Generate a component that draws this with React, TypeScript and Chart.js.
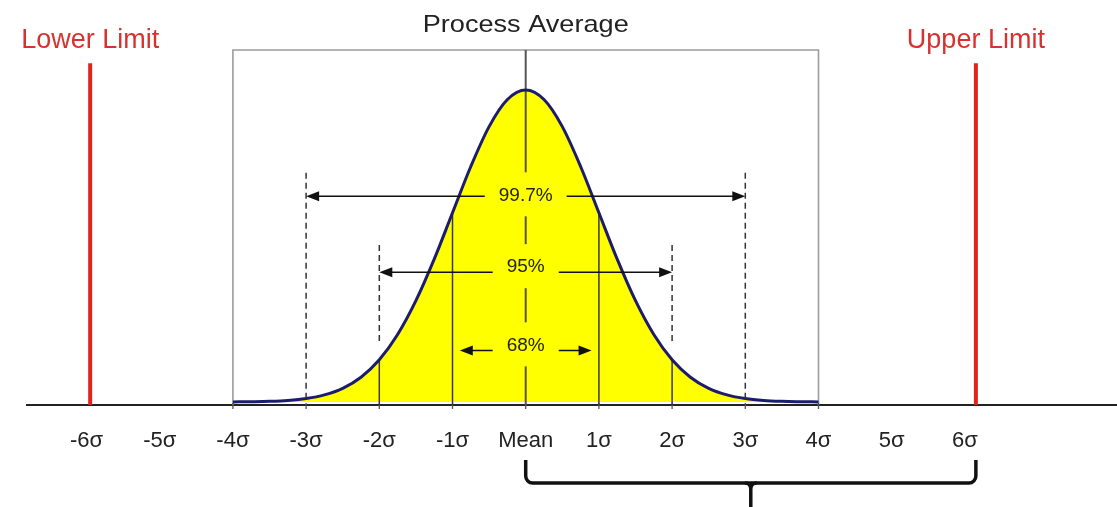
import React, { useEffect, useRef } from "react";
import { Chart, registerables } from "chart.js";

Chart.register(...registerables);

// ---- data ----
const SIGMA_X = [
  -4, -3.75, -3.5, -3.25, -3, -2.75, -2.5, -2.25, -2, -1.75, -1.5, -1.25, -1, -0.75, -0.5, -0.25,
  0, 0.25, 0.5, 0.75, 1, 1.25, 1.5, 1.75, 2, 2.25, 2.5, 2.75, 3, 3.25, 3.5, 3.75, 4,
];
const DENSITY = [
  0.0001, 0.0004, 0.0009, 0.002, 0.0044, 0.0091, 0.0175, 0.0317, 0.054, 0.0863, 0.1295, 0.1826,
  0.242, 0.3011, 0.3521, 0.3867, 0.3989, 0.3867, 0.3521, 0.3011, 0.242, 0.1826, 0.1295, 0.0863,
  0.054, 0.0317, 0.0175, 0.0091, 0.0044, 0.002, 0.0009, 0.0004, 0.0001,
];
const TICK_VALUES = [-6, -5, -4, -3, -2, -1, 0, 1, 2, 3, 4, 5, 6];
const TICK_LABELS = ["-6σ", "-5σ", "-4σ", "-3σ", "-2σ", "-1σ", "Mean", "1σ", "2σ", "3σ", "4σ", "5σ", "6σ"];
const LIMIT_X = [-5.95, 6.15];
const LIMIT_LABELS = ["Lower Limit", "Upper Limit"];
const LIMIT_TOP = 0.433;
const BOX_RANGE = [-4, 4];
const BOX_TOP = 0.45;
const SOLID_SIGMAS = [-2, -1, 1, 2];
const BOX_TICKS = [-4, -3, -2, -1, 0, 1, 2, 3, 4];
const DASH_SIGMAS = [3, 2];
const DASH_TOP = [0.293, 0.2007];
const DASH_BOTTOM = [0, 0.0754];
const SPAN_LABELS = ["99.7%", "95%", "68%"];
const SPAN_HALF = [3, 2, 0.9];
const SPAN_LEVEL = [0.263, 0.166, 0.066];
const TITLE = "Process Average";
const BRACKET_RANGE = [0, 6.15];

const X_MIN = -6.813;
const X_MAX = 8.078;
const Y_MIN = -0.00384;
const Y_MAX = 0.514;

const FONT = "'Liberation Sans', Arial, sans-serif";

function densityAt(s: number): number {
  return DENSITY[SIGMA_X.indexOf(s)];
}

function arrowHead(ctx: CanvasRenderingContext2D, tipX: number, y: number, dir: number) {
  ctx.beginPath();
  ctx.moveTo(tipX, y);
  ctx.lineTo(tipX - dir * 13, y - 5);
  ctx.lineTo(tipX - dir * 13, y + 5);
  ctx.closePath();
  ctx.fill();
}

const overlay = {
  id: "overlay",
  beforeDatasetDraw(chart: any) {
    const { ctx, chartArea, scales } = chart;
    const x = scales.x;
    const y = scales.y;
    const bottom = chartArea.bottom;
    ctx.save();
    // box
    ctx.strokeStyle = "#9c9c9c";
    ctx.lineWidth = 1.6;
    const bl = x.getPixelForValue(BOX_RANGE[0]);
    const br = x.getPixelForValue(BOX_RANGE[1]);
    const bt = y.getPixelForValue(BOX_TOP);
    ctx.beginPath();
    ctx.moveTo(bl, bottom);
    ctx.lineTo(bl, bt);
    ctx.lineTo(br, bt);
    ctx.lineTo(br, bottom);
    ctx.stroke();
    // small ticks
    ctx.strokeStyle = "#555";
    ctx.lineWidth = 1.3;
    BOX_TICKS.forEach((s) => {
      const px = x.getPixelForValue(s);
      ctx.beginPath();
      ctx.moveTo(px, bottom - 2);
      ctx.lineTo(px, bottom + 4);
      ctx.stroke();
    });
    // solid sigma lines
    ctx.strokeStyle = "#3a3a2a";
    ctx.lineWidth = 1.5;
    SOLID_SIGMAS.forEach((s) => {
      const px = x.getPixelForValue(s);
      ctx.beginPath();
      ctx.moveTo(px, bottom);
      ctx.lineTo(px, y.getPixelForValue(densityAt(s)));
      ctx.stroke();
    });
    // mean line
    ctx.strokeStyle = "#555";
    ctx.lineWidth = 2;
    const mx = x.getPixelForValue(0);
    ctx.beginPath();
    ctx.moveTo(mx, bottom);
    ctx.lineTo(mx, bt);
    ctx.stroke();
    ctx.restore();
  },
  afterDatasetsDraw(chart: any) {
    const { ctx, chartArea, scales } = chart;
    const x = scales.x;
    const y = scales.y;
    const bottom = chartArea.bottom;
    ctx.save();
    // dashed lines
    ctx.strokeStyle = "#333";
    ctx.lineWidth = 1.5;
    ctx.setLineDash([6, 4]);
    DASH_SIGMAS.forEach((s, i) => {
      [-s, s].forEach((v) => {
        const px = x.getPixelForValue(v);
        ctx.beginPath();
        ctx.moveTo(px, y.getPixelForValue(DASH_TOP[i]));
        ctx.lineTo(px, y.getPixelForValue(DASH_BOTTOM[i]));
        ctx.stroke();
      });
    });
    ctx.setLineDash([]);
    // arrows + labels
    const mx = x.getPixelForValue(0);
    SPAN_LABELS.forEach((label, i) => {
      const yy = y.getPixelForValue(SPAN_LEVEL[i]);
      const xl = x.getPixelForValue(-SPAN_HALF[i]);
      const xr = x.getPixelForValue(SPAN_HALF[i]);
      ctx.strokeStyle = "#111";
      ctx.fillStyle = "#111";
      ctx.lineWidth = 1.5;
      ctx.beginPath();
      ctx.moveTo(xl + 4, yy);
      ctx.lineTo(xr - 4, yy);
      ctx.stroke();
      arrowHead(ctx, xl, yy, -1);
      arrowHead(ctx, xr, yy, 1);
      ctx.font = `19px ${FONT}`;
      const w = ctx.measureText(label).width;
      const ty = yy - (i === 0 ? 2 : 6);
      ctx.fillStyle = "#ffff00";
      ctx.fillRect(mx - w / 2 - 14, ty - 22, w + 28, 44);
      ctx.fillStyle = "#222";
      ctx.textAlign = "center";
      ctx.textBaseline = "middle";
      ctx.fillText(label, mx, ty + 1);
    });
    // limit lines
    ctx.strokeStyle = "#e2231a";
    ctx.lineWidth = 4;
    LIMIT_X.forEach((v, i) => {
      const px = x.getPixelForValue(v);
      ctx.beginPath();
      ctx.moveTo(px, bottom);
      ctx.lineTo(px, y.getPixelForValue(LIMIT_TOP));
      ctx.stroke();
      ctx.font = `27px ${FONT}`;
      ctx.fillStyle = "#d7322f";
      ctx.textAlign = "center";
      ctx.textBaseline = "alphabetic";
      ctx.fillText(LIMIT_LABELS[i], px, 48);
    });
    // title
    ctx.save();
    ctx.translate(mx, 32);
    ctx.scale(1.13, 1);
    ctx.font = `24px ${FONT}`;
    ctx.fillStyle = "#222";
    ctx.textAlign = "center";
    ctx.textBaseline = "alphabetic";
    ctx.fillText(TITLE, 0, 0);
    ctx.restore();
    // bracket
    const x0 = x.getPixelForValue(BRACKET_RANGE[0]);
    const x1 = x.getPixelForValue(BRACKET_RANGE[1]);
    const xc = (x0 + x1) / 2;
    const yTop = bottom + 55;
    const yMid = bottom + 78;
    const r = 7;
    ctx.strokeStyle = "#111";
    ctx.lineWidth = 3.5;
    ctx.lineJoin = "round";
    ctx.beginPath();
    ctx.moveTo(x0, yTop);
    ctx.lineTo(x0, yMid - r);
    ctx.arcTo(x0, yMid, x0 + r, yMid, r);
    ctx.lineTo(x1 - r, yMid);
    ctx.arcTo(x1, yMid, x1, yMid - r, r);
    ctx.lineTo(x1, yTop);
    ctx.stroke();
    ctx.beginPath();
    ctx.moveTo(xc - 6, yMid);
    ctx.quadraticCurveTo(xc, yMid, xc, yMid + 6);
    ctx.lineTo(xc, chart.height + 2);
    ctx.moveTo(xc + 6, yMid);
    ctx.quadraticCurveTo(xc, yMid, xc, yMid + 6);
    ctx.stroke();
    ctx.restore();
  },
};

export default function App() {
  const canvasRef = useRef<HTMLCanvasElement | null>(null);

  useEffect(() => {
    const canvas = canvasRef.current;
    if (!canvas) return;
    const chart = new Chart(canvas, {
      type: "line",
      data: {
        datasets: [
          {
            data: SIGMA_X.map((s, i) => ({ x: s, y: DENSITY[i] })),
            borderColor: "#1c1c6e",
            borderWidth: 3,
            backgroundColor: "#ffff00",
            fill: "origin",
            pointRadius: 0,
            cubicInterpolationMode: "monotone",
          },
        ],
      },
      options: {
        animation: false,
        responsive: true,
        maintainAspectRatio: false,
        layout: { padding: { left: 27, right: 0, top: 0, bottom: 0 } },
        plugins: { legend: { display: false }, tooltip: { enabled: false }, title: { display: false } },
        scales: {
          x: {
            type: "linear",
            min: X_MIN,
            max: X_MAX,
            afterBuildTicks: (scale: any) => {
              scale.ticks = TICK_VALUES.map((v) => ({ value: v }));
            },
            afterFit: (scale: any) => {
              scale.height = 102;
            },
            grid: { display: false, drawTicks: false },
            border: { display: true, color: "#222", width: 2 },
            ticks: {
              autoSkip: false,
              maxRotation: 0,
              padding: 23,
              color: "#222",
              font: { size: 22, family: FONT },
              callback: (v: any) => {
                const idx = TICK_VALUES.indexOf(Number(v));
                return idx >= 0 ? TICK_LABELS[idx] : "";
              },
            },
          },
          y: {
            type: "linear",
            display: false,
            min: Y_MIN,
            max: Y_MAX,
          },
        },
      },
      plugins: [overlay],
    } as any);
    return () => chart.destroy();
  }, []);

  return (
    <div style={{ position: "absolute", left: 0, top: 0, width: 1117, height: 507, background: "#fff" }}>
      <canvas ref={canvasRef} />
    </div>
  );
}
